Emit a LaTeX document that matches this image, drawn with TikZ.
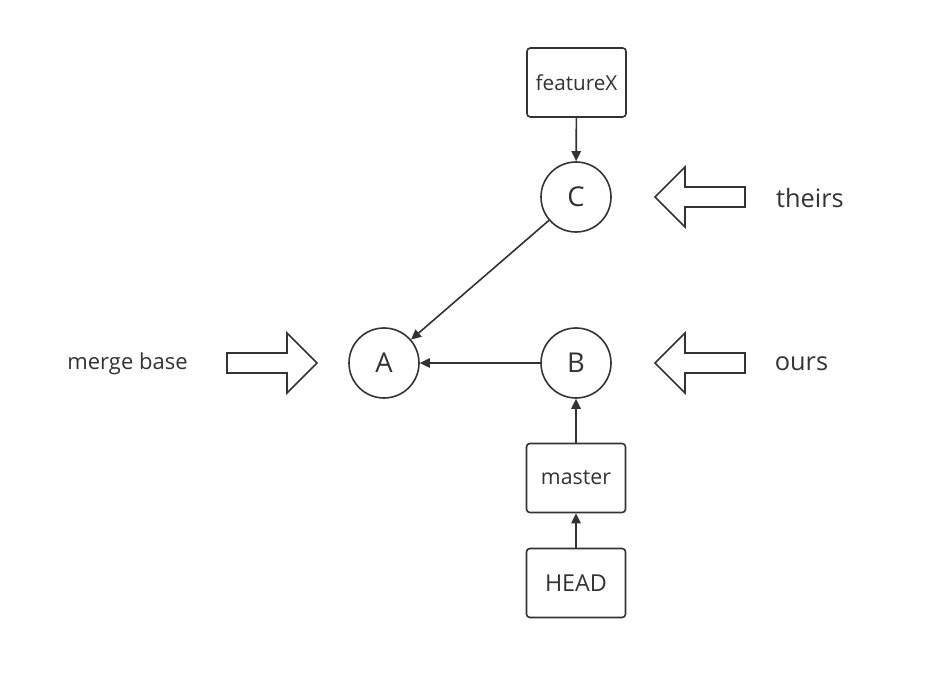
\documentclass[tikz,border=0pt]{standalone}
\usepackage{fontspec}
\setmainfont{Open Sans}
\usetikzlibrary{arrows.meta}
\definecolor{ink}{HTML}{333333}
\begin{document}
\begin{tikzpicture}[x=0.75pt,y=-0.75pt,
  line width=1.2pt, draw=ink, text=ink,
  commit/.style={circle, draw=ink, line width=1.2pt, minimum size=52.5pt, inner sep=0pt, font=\fontsize{20.5}{24}\selectfont},
  ref/.style={rectangle, rounded corners=2.5pt, draw=ink, line width=1.2pt, minimum width=74.25pt, minimum height=51.75pt, inner sep=0pt},
  lbl/.style={inner sep=0pt, text=ink},
  link/.style={draw=ink, line width=1.2pt, -{Triangle[length=7.5pt,width=7pt]}},
  blockarrow/.style={draw=ink, line width=1.2pt, fill=white, line join=miter}
]
\useasboundingbox (0,0) rectangle (951,680);
\fill[white] (0,0) rectangle (951,680);

\node[ref, font=\fontsize{15.5}{18}\selectfont] (featureX) at (576.5,82.5) {featureX};
\node[commit] (C) at (576,197) {C};
\node[commit] (A) at (384,363) {A};
\node[commit] (B) at (576,363) {B};
\node[ref, font=\fontsize{16}{19}\selectfont] (master) at (576,478) {master};
\node[ref, font=\fontsize{17.5}{20}\selectfont] (HEAD) at (576,583) {HEAD};

\node[lbl, font=\fontsize{16.5}{19}\selectfont] (mergebase) at (127.5,364) {merge base};
\node[lbl, font=\fontsize{19}{22}\selectfont] (theirs) at (810,198) {theirs};
\node[lbl, font=\fontsize{19}{22}\selectfont] (ours) at (801.5,364) {ours};

\draw[link] (featureX) -- (C);
\draw[link] (C) -- (A);
\draw[link] (B) -- (A);
\draw[link] (master) -- (B);
\draw[link] (HEAD) -- (master);

% block arrows
\draw[blockarrow] (655,197) -- (685,167) -- (685,187) -- (745,187) -- (745,207) -- (685,207) -- (685,227) -- cycle;
\draw[blockarrow] (655,363) -- (685,333) -- (685,353) -- (745,353) -- (745,373) -- (685,373) -- (685,393) -- cycle;
\draw[blockarrow] (317,363) -- (287,333) -- (287,353) -- (227,353) -- (227,373) -- (287,373) -- (287,393) -- cycle;
\end{tikzpicture}
\end{document}
